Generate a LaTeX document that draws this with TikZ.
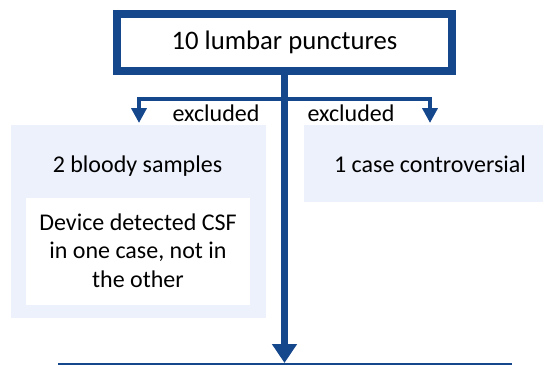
\documentclass[tikz,border=0pt]{standalone}
\usepackage{fontspec}
\setmainfont{Carlito}
\usetikzlibrary{arrows.meta}
\definecolor{flowblue}{RGB}{21,71,141}
\definecolor{panelfill}{RGB}{237,241,251}
\tikzset{
  topbox/.style={draw=flowblue, line width=8pt, fill=white, minimum width=335pt, minimum height=57pt, inner sep=0pt, outer sep=0pt, font=\fontsize{26.7}{32}\selectfont},
  panel/.style={fill=panelfill, draw=none, inner sep=0pt, outer sep=0pt},
  innerbox/.style={fill=white, draw=none, inner sep=0pt, outer sep=0pt},
  txt/.style={font=\fontsize{24}{28.5}\selectfont, inner sep=0pt, anchor=base, align=center},
  mainarrow/.style={draw=flowblue, line width=7pt, -{Triangle[width=24pt,length=19pt]}},
  brancharrow/.style={draw=flowblue, line width=4pt, -{Triangle[width=15pt,length=15pt]}},
  baseline/.style={draw=flowblue, line width=2pt}
}
\begin{document}
\begin{tikzpicture}[x=1pt,y=-1pt]
\useasboundingbox (0,0) rectangle (543,365);
% panels
\node[panel, minimum width=255pt, minimum height=193pt] (lpanel) at (138.5,221.5) {};
\node[innerbox, minimum width=224pt, minimum height=107pt] (ibox) at (138,251.5) {};
\node[panel, minimum width=239pt, minimum height=77pt] (rpanel) at (423.5,163.5) {};
% texts
\node[txt] (bloody) at (137.5,172) {2 bloody samples};
\node[txt] (device) at (138,287) {Device detected CSF\\in one case, not in\\the other};
\node[txt] (contro) at (430,172) {1 case controversial};
\node[txt] (exl) at (216,121) {excluded};
\node[txt] (exr) at (351,121) {excluded};
% top box
\node[topbox] (top) at (284.5,42.5) {10 lumbar punctures};
% connectors
\coordinate (bj) at (284.5,99);
\coordinate (lt) at (139,123);
\coordinate (rt) at (430,123);
\coordinate (mt) at (284.5,363);
\coordinate (bl) at (58,363.5);
\coordinate (br) at (512,363.5);
\draw[baseline] (bl) -- (br);
\draw[brancharrow] (bj) -| (lt);
\draw[brancharrow] (bj) -| (rt);
\draw[mainarrow] (top.south) -- (mt);
\end{tikzpicture}
\end{document}
